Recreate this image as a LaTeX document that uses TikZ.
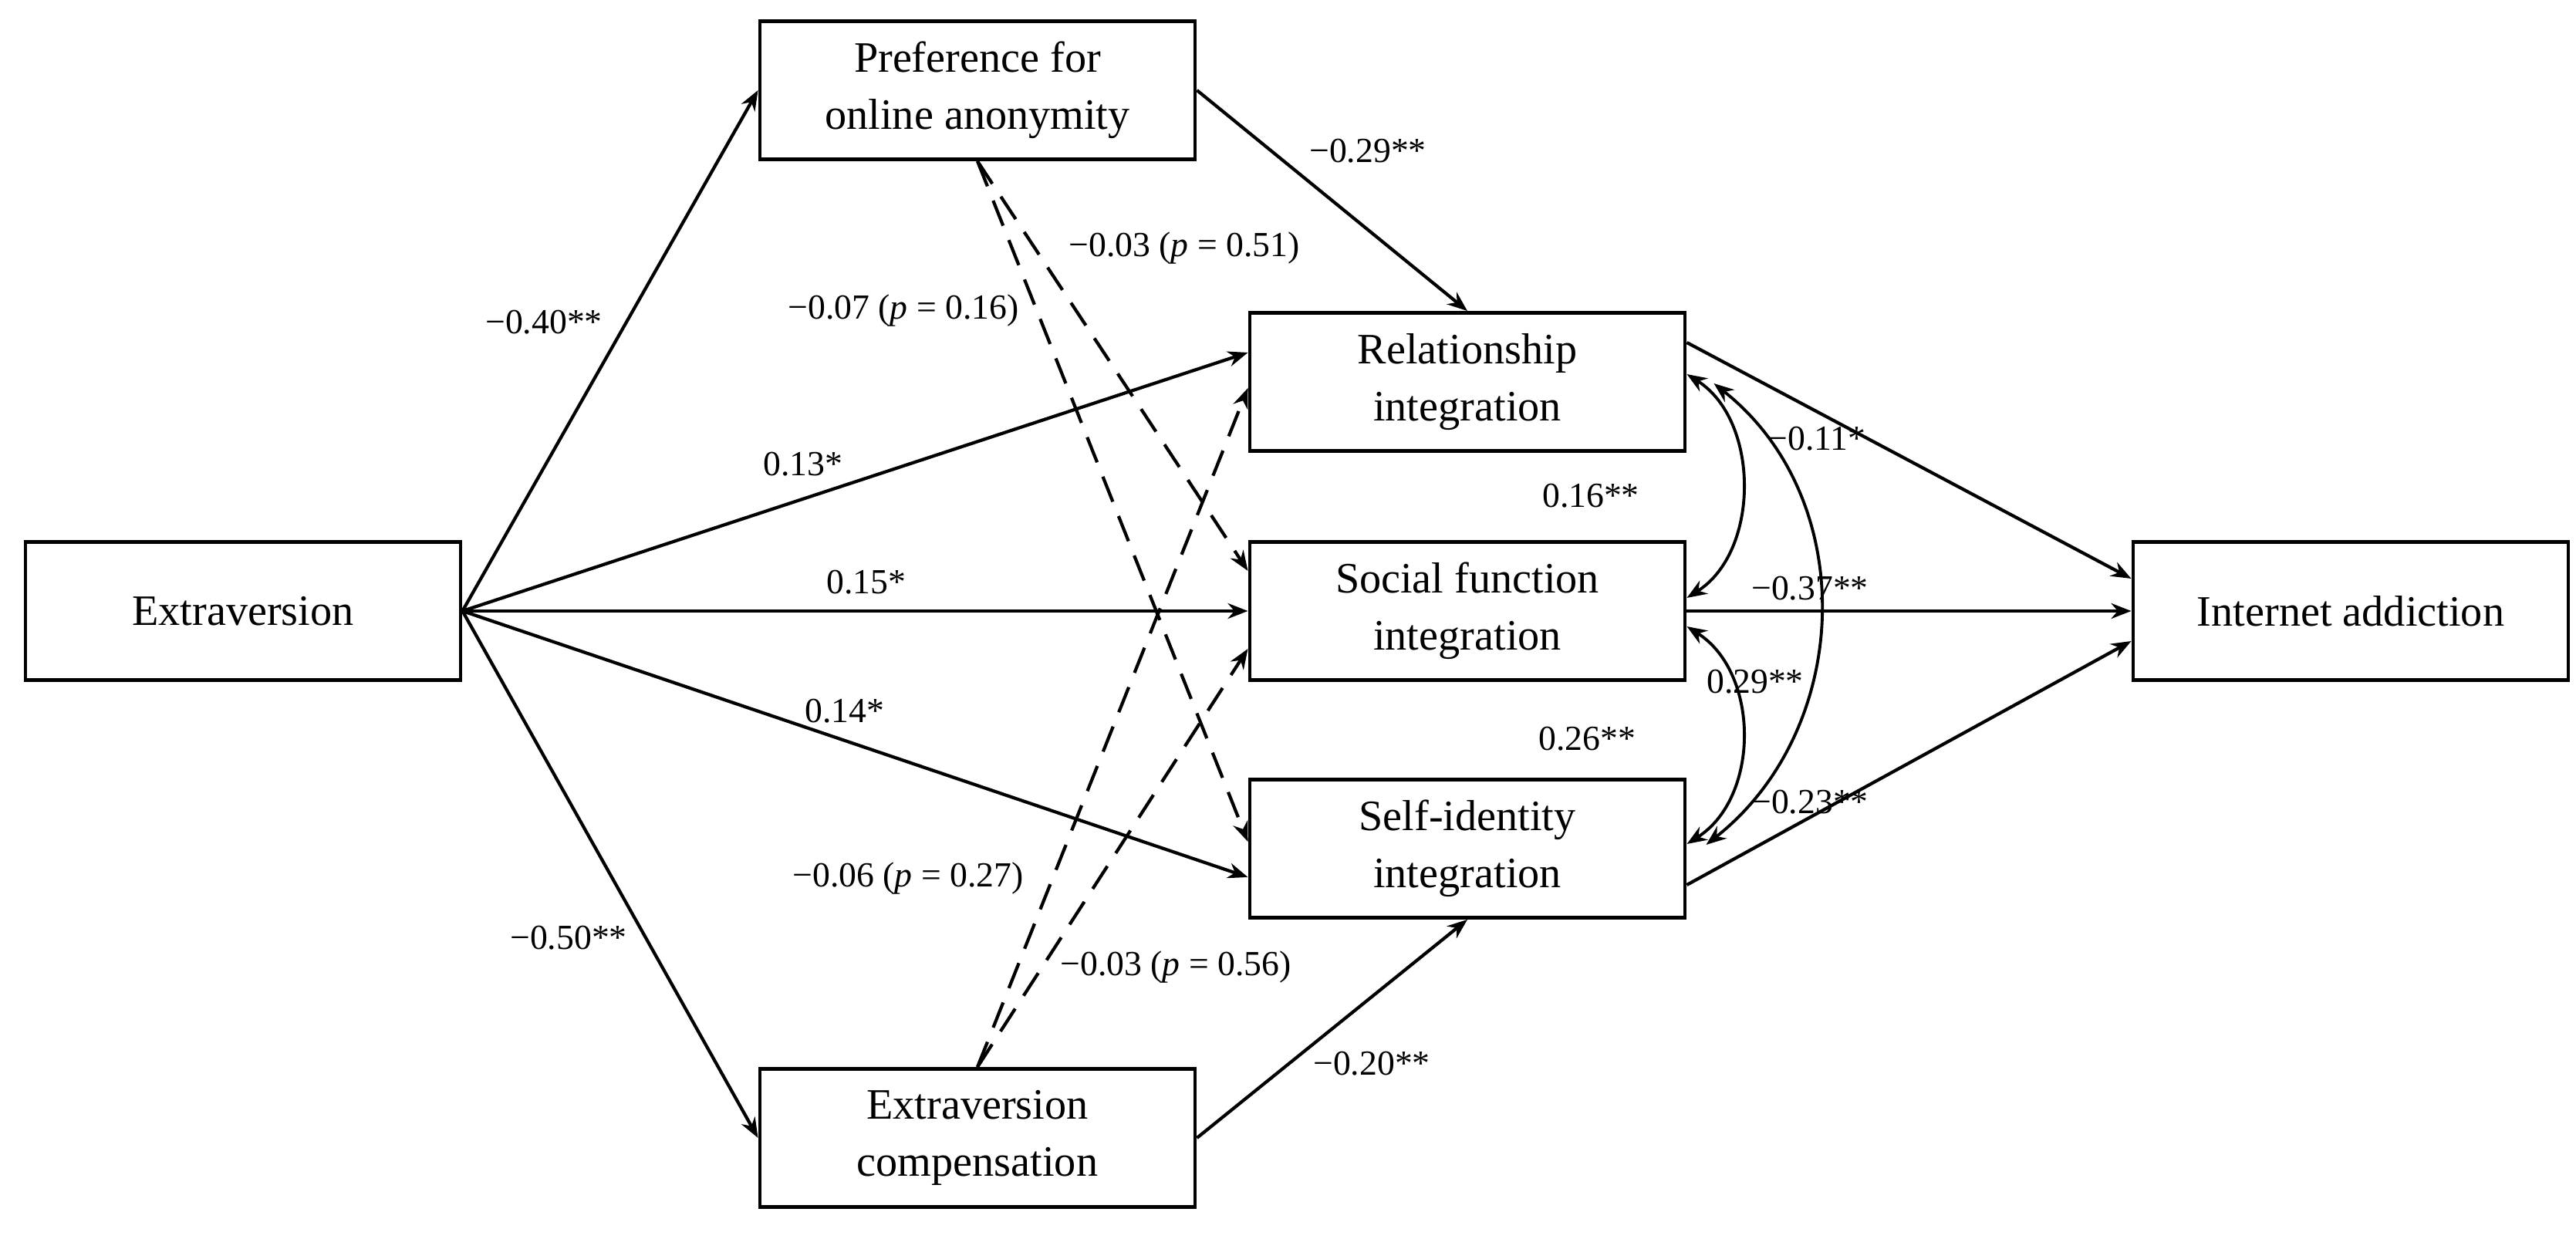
\documentclass[tikz,border=0pt]{standalone}
\usepackage{fontspec}
\setmainfont{Liberation Serif}
\usetikzlibrary{
    arrows.meta,
    positioning,
}
\tikzstyle{var}=[draw,rectangle,line width=1.4pt,align=center,minimum width=5.64cm,minimum height=1.79cm,inner sep=1mm,font=\fontsize{16}{21}\selectfont]
\tikzstyle{path}=[line width=1.2pt,-{Stealth[length=2.6mm,width=2mm]}]
\tikzstyle{ns}=[path,dashed,dash pattern=on 3.5mm off 2mm]
\tikzstyle{cov}=[line width=1.1pt,{Stealth[length=2.6mm,width=2mm]}-{Stealth[length=2.6mm,width=2mm]}]
\tikzstyle{coef}=[font=\fontsize{13}{15}\selectfont,inner sep=0pt]

\begin{document}
\begin{tikzpicture}
    \useasboundingbox (0,0) rectangle (33.39,-16.06);
    % variables
    \node[var] (extra) at (3.15,-7.92) {Extraversion};
    \node[var] (anon) at (12.67,-1.17) {Preference for\\online anonymity};
    \node[var] (comp) at (12.67,-14.75) {Extraversion\\compensation};
    \node[var] (rel) at (19.02,-4.95) {Relationship\\integration};
    \node[var] (soc) at (19.02,-7.92) {Social function\\integration};
    \node[var] (self) at (19.02,-11.00) {Self-identity\\integration};
    \node[var] (ia) at (30.47,-7.92) {Internet addiction};
    % paths from extraversion
    \draw[path] (extra.east) -- (anon.west);
    \draw[path] (extra.east) -- ([yshift=0.38cm]rel.west);
    \draw[path] (extra.east) -- (soc.west);
    \draw[path] (extra.east) -- ([yshift=-0.37cm]self.west);
    \draw[path] (extra.east) -- (comp.west);
    % mediators
    \draw[path] (anon.east) -- (rel.north);
    \draw[ns] (anon.south) -- ([yshift=0.52cm]soc.west);
    \draw[ns] (anon.south) -- ([yshift=0.09cm]self.west);
    \draw[ns] (comp.north) -- ([yshift=-0.08cm]rel.west);
    \draw[ns] (comp.north) -- ([yshift=-0.49cm]soc.west);
    \draw[path] (comp.east) -- (self.south);
    % outcomes
    \draw[path] ([yshift=0.51cm]rel.east) -- ([yshift=0.42cm]ia.west);
    \draw[path] (soc.east) -- (ia.west);
    \draw[path] ([yshift=-0.47cm]self.east) -- ([yshift=-0.39cm]ia.west);
    % covariances
    \draw[cov] ([yshift=0.1cm]rel.east) .. controls +(0.95,-0.6) and +(0.95,0.6) .. ([yshift=0.17cm]soc.east);
    \draw[cov] ([yshift=-0.2cm]soc.east) .. controls +(0.95,-0.6) and +(0.95,0.6) .. ([yshift=0.06cm]self.east);
    \draw[cov] ([xshift=0.35cm,yshift=-0.02cm]rel.east) .. controls +(1.9,-1.5) and +(1.9,1.5) .. ([xshift=0.25cm,yshift=0.05cm]self.east);
    % coefficients
    \node[coef] (c1) at (7.05,-4.18) {−0.40**};
    \node[coef] (c2) at (11.71,-4.03) {−0.07 (\textit{p} = 0.16)};
    \node[coef] (c3) at (15.35,-3.22) {−0.03 (\textit{p} = 0.51)};
    \node[coef] (c4) at (17.73,-1.96) {−0.29**};
    \node[coef] (c5) at (10.41,-6.02) {0.13*};
    \node[coef] (c6) at (11.23,-7.55) {0.15*};
    \node[coef] (c7) at (10.95,-9.22) {0.14*};
    \node[coef] (c8) at (11.77,-11.39) {−0.06 (\textit{p} = 0.27)};
    \node[coef] (c9) at (7.37,-12.16) {−0.50**};
    \node[coef] (c10) at (15.24,-12.54) {−0.03 (\textit{p} = 0.56)};
    \node[coef] (c11) at (17.78,-13.79) {−0.20**};
    \node[coef] (c12) at (23.55,-5.69) {−0.11*};
    \node[coef] (c13) at (20.62,-6.43) {0.16**};
    \node[coef] (c14) at (23.46,-7.63) {−0.37**};
    \node[coef] (c15) at (22.75,-8.84) {0.29**};
    \node[coef] (c16) at (20.57,-9.58) {0.26**};
    \node[coef] (c17) at (23.46,-10.40) {−0.23**};
\end{tikzpicture}
\end{document}
